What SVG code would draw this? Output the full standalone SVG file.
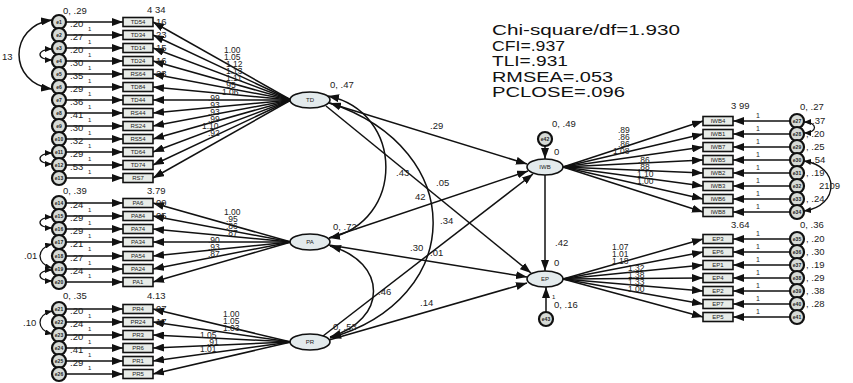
<svg xmlns="http://www.w3.org/2000/svg" width="853" height="383" viewBox="0 0 853 383">
<defs>
<marker id="ah" markerUnits="userSpaceOnUse" markerWidth="11" markerHeight="8" refX="11" refY="4" orient="auto"><path d="M0,0 L11,4 L0,8 z" fill="#111"/></marker>
<marker id="ahs" markerUnits="userSpaceOnUse" markerWidth="7" markerHeight="6" refX="7" refY="3" orient="auto-start-reverse"><path d="M0,0 L7,3 L0,6 z" fill="#111"/></marker>
<marker id="ahd" markerUnits="userSpaceOnUse" markerWidth="11" markerHeight="8" refX="11" refY="4" orient="auto-start-reverse"><path d="M0,0 L11,4 L0,8 z" fill="#111"/></marker>
<style>
text{font-family:"Liberation Sans",Arial,sans-serif;fill:#222}
.n{font-size:9.5px}
.ld{font-size:8.5px}
.s{font-size:6px}
.lb{font-size:6px;text-anchor:middle}
.el{font-size:5px;text-anchor:middle;font-weight:bold}
.fit{font-size:15px;fill:#111}
.ln{stroke:#111;stroke-width:1.5;fill:none}
.a{marker-end:url(#ah)}
.cv{stroke:#111;stroke-width:1.5;fill:none;marker-start:url(#ahd);marker-end:url(#ahd)}
.cs{stroke:#111;stroke-width:1.3;fill:none;marker-start:url(#ahs);marker-end:url(#ahs)}
.box{fill:#e8ece8;stroke:#111;stroke-width:1.6}
.err{fill:#d6dad6;stroke:#111;stroke-width:2.2}
.lat{fill:#e3eaec;stroke:#111;stroke-width:1.6}
</style>
</defs>
<rect width="853" height="383" fill="#fff"/>

<g id="connectors">
<g class="ln a">
<line x1="66" y1="22" x2="123" y2="22"/><line x1="66" y1="35" x2="123" y2="35"/><line x1="66" y1="48" x2="123" y2="48"/><line x1="66" y1="61" x2="123" y2="61"/><line x1="66" y1="74" x2="123" y2="74"/><line x1="66" y1="87" x2="123" y2="87"/><line x1="66" y1="100" x2="123" y2="100"/><line x1="66" y1="113" x2="123" y2="113"/><line x1="66" y1="126" x2="123" y2="126"/><line x1="66" y1="139" x2="123" y2="139"/><line x1="66" y1="152" x2="123" y2="152"/><line x1="66" y1="165" x2="123" y2="165"/><line x1="66" y1="178" x2="123" y2="178"/>
<line x1="66" y1="203" x2="123" y2="203"/><line x1="66" y1="216" x2="123" y2="216"/><line x1="66" y1="229" x2="123" y2="229"/><line x1="66" y1="242" x2="123" y2="242"/><line x1="66" y1="256" x2="123" y2="256"/><line x1="66" y1="269" x2="123" y2="269"/><line x1="66" y1="282" x2="123" y2="282"/>
<line x1="66" y1="309" x2="123" y2="309"/><line x1="66" y1="322" x2="123" y2="322"/><line x1="66" y1="335" x2="123" y2="335"/><line x1="66" y1="348" x2="123" y2="348"/><line x1="66" y1="361" x2="123" y2="361"/><line x1="66" y1="374" x2="123" y2="374"/>
<line x1="291" y1="100" x2="153" y2="22"/><line x1="291" y1="100" x2="153" y2="35"/><line x1="291" y1="100" x2="153" y2="48"/><line x1="291" y1="100" x2="153" y2="61"/><line x1="291" y1="100" x2="153" y2="74"/><line x1="291" y1="100" x2="153" y2="87"/><line x1="291" y1="100" x2="153" y2="100"/><line x1="291" y1="100" x2="153" y2="113"/><line x1="291" y1="100" x2="153" y2="126"/><line x1="291" y1="100" x2="153" y2="139"/><line x1="291" y1="100" x2="153" y2="152"/><line x1="291" y1="100" x2="153" y2="165"/><line x1="291" y1="100" x2="153" y2="178"/>
<line x1="291" y1="242" x2="153" y2="203"/><line x1="291" y1="242" x2="153" y2="216"/><line x1="291" y1="242" x2="153" y2="229"/><line x1="291" y1="242" x2="153" y2="242"/><line x1="291" y1="242" x2="153" y2="256"/><line x1="291" y1="242" x2="153" y2="269"/><line x1="291" y1="242" x2="153" y2="282"/>
<line x1="291" y1="342" x2="153" y2="309"/><line x1="291" y1="342" x2="153" y2="322"/><line x1="291" y1="342" x2="153" y2="335"/><line x1="291" y1="342" x2="153" y2="348"/><line x1="291" y1="342" x2="153" y2="361"/><line x1="291" y1="342" x2="153" y2="374"/>
<line x1="563" y1="167" x2="703" y2="121"/><line x1="563" y1="167" x2="703" y2="134"/><line x1="563" y1="167" x2="703" y2="147"/><line x1="563" y1="167" x2="703" y2="160"/><line x1="563" y1="167" x2="703" y2="173"/><line x1="563" y1="167" x2="703" y2="186"/><line x1="563" y1="167" x2="703" y2="199"/><line x1="563" y1="167" x2="703" y2="212"/>
<line x1="563" y1="279" x2="703" y2="239"/><line x1="563" y1="279" x2="703" y2="252"/><line x1="563" y1="279" x2="703" y2="265"/><line x1="563" y1="279" x2="703" y2="278"/><line x1="563" y1="279" x2="703" y2="291"/><line x1="563" y1="279" x2="703" y2="304"/><line x1="563" y1="279" x2="703" y2="317"/>
<line x1="790" y1="121" x2="733" y2="121"/><line x1="790" y1="134" x2="733" y2="134"/><line x1="790" y1="147" x2="733" y2="147"/><line x1="790" y1="160" x2="733" y2="160"/><line x1="790" y1="173" x2="733" y2="173"/><line x1="790" y1="186" x2="733" y2="186"/><line x1="790" y1="199" x2="733" y2="199"/><line x1="790" y1="212" x2="733" y2="212"/>
<line x1="790" y1="239" x2="733" y2="239"/><line x1="790" y1="252" x2="733" y2="252"/><line x1="790" y1="265" x2="733" y2="265"/><line x1="790" y1="278" x2="733" y2="278"/><line x1="790" y1="291" x2="733" y2="291"/><line x1="790" y1="304" x2="733" y2="304"/><line x1="790" y1="317" x2="733" y2="317"/>
<line x1="329" y1="103" x2="527" y2="164"/>
<line x1="326" y1="106" x2="531" y2="273"/>
<line x1="329" y1="238" x2="528" y2="171"/>
<line x1="329" y1="245" x2="527" y2="277"/>
<line x1="323" y1="336" x2="533" y2="174"/>
<line x1="329" y1="340" x2="527" y2="283"/>
<line x1="545" y1="175" x2="545" y2="271"/>
<line x1="545" y1="146" x2="545" y2="159"/>
<line x1="546" y1="312" x2="546" y2="287"/>
</g>
<path class="cv" d="M328,96 C405,112 405,222 329,238"/>
<path class="cv" d="M330,103 C470,150 465,300 330,338"/>
<path class="cv" d="M330,246 C388,262 388,320 330,337"/>
<path class="cv" d="M52,20 C8,26 8,83 52,89"/>
<path class="cs" d="M52,49 C36,49 36,60 52,60"/>
<path class="cs" d="M52,153 C36,153 36,164 52,164"/>
<path class="cs" d="M52,217 C36,217 36,228 52,228"/>
<path class="cs" d="M52,244 C36,248 36,264 52,268"/>
<path class="cs" d="M52,270 C36,270 36,281 52,281"/>
<path class="cs" d="M52,311 C36,315 36,330 52,334"/>
<path class="cs" d="M804,122 C818,122 818,133 804,133"/>
<path class="cs" d="M804,161 C840,166 840,206 804,211"/>
</g>

<g id="TD-indicators">
<g class="err">
<circle cx="59" cy="22" r="7"/><circle cx="59" cy="35" r="7"/><circle cx="59" cy="48" r="7"/><circle cx="59" cy="61" r="7"/><circle cx="59" cy="74" r="7"/><circle cx="59" cy="87" r="7"/><circle cx="59" cy="100" r="7"/><circle cx="59" cy="113" r="7"/><circle cx="59" cy="126" r="7"/><circle cx="59" cy="139" r="7"/><circle cx="59" cy="152" r="7"/><circle cx="59" cy="165" r="7"/><circle cx="59" cy="178" r="7"/>
</g>
<g class="box">
<rect x="123" y="17.5" width="30" height="9"/><rect x="123" y="30.5" width="30" height="9"/><rect x="123" y="43.5" width="30" height="9"/><rect x="123" y="56.5" width="30" height="9"/><rect x="123" y="69.5" width="30" height="9"/><rect x="123" y="82.5" width="30" height="9"/><rect x="123" y="95.5" width="30" height="9"/><rect x="123" y="108.5" width="30" height="9"/><rect x="123" y="121.5" width="30" height="9"/><rect x="123" y="134.5" width="30" height="9"/><rect x="123" y="147.5" width="30" height="9"/><rect x="123" y="160.5" width="30" height="9"/><rect x="123" y="173.5" width="30" height="9"/>
</g>
<g class="el">
<text x="59" y="24">e1</text><text x="59" y="37">e2</text><text x="59" y="50">e3</text><text x="59" y="63">e4</text><text x="59" y="76">e5</text><text x="59" y="89">e6</text><text x="59" y="102">e7</text><text x="59" y="115">e8</text><text x="59" y="128">e9</text><text x="59" y="141">e10</text><text x="59" y="154">e11</text><text x="59" y="167">e12</text><text x="59" y="180">e13</text>
</g>
<g class="lb">
<text x="138" y="24.2">TD54</text><text x="138" y="37.2">TD34</text><text x="138" y="50.2">TD14</text><text x="138" y="63.2">TD24</text><text x="138" y="76.2">RS64</text><text x="138" y="89.2">TD84</text><text x="138" y="102.2">TD44</text><text x="138" y="115.2">RS44</text><text x="138" y="128.2">RS24</text><text x="138" y="141.2">RS54</text><text x="138" y="154.2">TD64</text><text x="138" y="167.2">TD74</text><text x="138" y="180.2">RS7</text>
</g>
<g class="n">
<text x="63" y="14">0, .29</text><text x="147" y="13">4 34</text>
<text x="70" y="27">.20</text><text x="70" y="40">.27</text><text x="70" y="53">.20</text><text x="70" y="66">.30</text><text x="70" y="79">.35</text><text x="70" y="92">.29</text><text x="70" y="105">.36</text><text x="70" y="118">.41</text><text x="70" y="131">.30</text><text x="70" y="144">.32</text><text x="70" y="157">.29</text><text x="70" y="170">.53</text>
<text x="156" y="25">16</text><text x="156" y="38">23</text><text x="156" y="51">15</text><text x="156" y="64">16</text><text x="156" y="77">23</text>
</g>
<g class="s">
<text x="88" y="31">1</text><text x="88" y="44">1</text><text x="88" y="57">1</text><text x="88" y="70">1</text><text x="88" y="83">1</text><text x="88" y="96">1</text><text x="88" y="109">1</text><text x="88" y="122">1</text><text x="88" y="135">1</text><text x="88" y="148">1</text><text x="88" y="161">1</text><text x="88" y="174">1</text>
</g>
<text class="n" x="2" y="60">13</text>
<g class="ld">
<text x="224" y="53">1.00</text><text x="224" y="60">1.05</text><text x="226" y="67">1.12</text><text x="226" y="74">1.13</text><text x="226" y="81">1.11</text><text x="224" y="88">.95</text><text x="222" y="95">1.06</text><text x="208" y="101">.99</text><text x="208" y="108">.93</text><text x="208" y="115">.93</text><text x="208" y="122">.99</text><text x="202" y="129">1.10</text><text x="208" y="136">.92</text>
</g>
</g>

<g id="PA-indicators">
<g class="err">
<circle cx="59" cy="203" r="7"/><circle cx="59" cy="216" r="7"/><circle cx="59" cy="229" r="7"/><circle cx="59" cy="242" r="7"/><circle cx="59" cy="256" r="7"/><circle cx="59" cy="269" r="7"/><circle cx="59" cy="282" r="7"/>
</g>
<g class="box">
<rect x="123" y="198.5" width="30" height="9"/><rect x="123" y="211.5" width="30" height="9"/><rect x="123" y="224.5" width="30" height="9"/><rect x="123" y="237.5" width="30" height="9"/><rect x="123" y="251.5" width="30" height="9"/><rect x="123" y="264.5" width="30" height="9"/><rect x="123" y="277.5" width="30" height="9"/>
</g>
<g class="el">
<text x="59" y="205">e14</text><text x="59" y="218">e15</text><text x="59" y="231">e16</text><text x="59" y="244">e17</text><text x="59" y="258">e18</text><text x="59" y="271">e19</text><text x="59" y="284">e20</text>
</g>
<g class="lb">
<text x="138" y="205.2">PA6</text><text x="138" y="218.2">PA84</text><text x="138" y="231.2">PA74</text><text x="138" y="244.2">PA34</text><text x="138" y="258.2">PA54</text><text x="138" y="271.2">PA24</text><text x="138" y="284.2">PA1</text>
</g>
<g class="n">
<text x="63" y="194">0, .39</text><text x="147" y="194">3.79</text>
<text x="70" y="208">.24</text><text x="70" y="221">.29</text><text x="70" y="234">.29</text><text x="70" y="247">.21</text><text x="70" y="261">.27</text><text x="70" y="274">.24</text>
<text x="156" y="206">09</text><text x="156" y="219">05</text>
<text x="24" y="259">.01</text>
</g>
<g class="ld">
<text x="224" y="215">1.00</text><text x="226" y="222">.95</text><text x="226" y="229">.86</text><text x="226" y="236">.87</text><text x="208" y="243">.90</text><text x="208" y="250">.93</text><text x="208" y="257">.87</text>
</g>
<g class="s">
<text x="88" y="212">1</text><text x="88" y="225">1</text><text x="88" y="238">1</text><text x="88" y="251">1</text><text x="88" y="265">1</text><text x="88" y="278">1</text>
</g>
</g>

<g id="PR-indicators">
<g class="err">
<circle cx="59" cy="309" r="7"/><circle cx="59" cy="322" r="7"/><circle cx="59" cy="335" r="7"/><circle cx="59" cy="348" r="7"/><circle cx="59" cy="361" r="7"/><circle cx="59" cy="374" r="7"/>
</g>
<g class="box">
<rect x="123" y="304.5" width="30" height="9"/><rect x="123" y="317.5" width="30" height="9"/><rect x="123" y="330.5" width="30" height="9"/><rect x="123" y="343.5" width="30" height="9"/><rect x="123" y="356.5" width="30" height="9"/><rect x="123" y="369.5" width="30" height="9"/>
</g>
<g class="el">
<text x="59" y="311">e21</text><text x="59" y="324">e22</text><text x="59" y="337">e23</text><text x="59" y="350">e24</text><text x="59" y="363">e25</text><text x="59" y="376">e26</text>
</g>
<g class="lb">
<text x="138" y="311.2">PR4</text><text x="138" y="324.2">PR24</text><text x="138" y="337.2">PR3</text><text x="138" y="350.2">PR6</text><text x="138" y="363.2">PR1</text><text x="138" y="376.2">PR5</text>
</g>
<g class="n">
<text x="63" y="299">0, .35</text><text x="147" y="299">4.13</text>
<text x="70" y="314">.20</text><text x="70" y="327">.24</text><text x="70" y="340">.20</text><text x="70" y="353">.41</text><text x="70" y="366">.29</text>
<text x="156" y="312">07</text><text x="156" y="325">17</text>
<text x="23" y="326">.10</text>
</g>
<g class="ld">
<text x="223" y="317">1.00</text><text x="223" y="324">1.05</text><text x="223" y="331">1.03</text><text x="200" y="338">1.05</text><text x="207" y="345">.91</text><text x="200" y="352">1.01</text>
</g>
<g class="s">
<text x="88" y="318">1</text><text x="88" y="331">1</text><text x="88" y="344">1</text><text x="88" y="357">1</text><text x="88" y="370">1</text>
</g>
</g>

<g id="TD"><ellipse class="lat" cx="310" cy="100" rx="20" ry="8"/><text class="lb" x="310" y="102">TD</text><text class="n" x="330" y="88">0, .47</text></g>
<g id="PA"><ellipse class="lat" cx="310" cy="242" rx="20" ry="8"/><text class="lb" x="310" y="244">PA</text><text class="n" x="333" y="230">0, .72</text></g>
<g id="PR"><ellipse class="lat" cx="310" cy="342" rx="20" ry="8"/><text class="lb" x="310" y="344">PR</text><text class="n" x="333" y="330">0, .53</text></g>
<g id="IWB"><ellipse class="lat" cx="545" cy="167" rx="18" ry="8"/><text class="lb" x="545" y="169">IWB</text><text class="n" x="552" y="127">0, .49</text><text class="n" x="554" y="155">0</text></g>
<g id="EP"><ellipse class="lat" cx="545" cy="279" rx="18" ry="8"/><text class="lb" x="545" y="281">EP</text><text class="n" x="554" y="266">0</text></g>
<g id="e42"><circle class="err" cx="545" cy="139" r="7"/><text class="el" x="545" y="141">e42</text></g>
<g id="e43"><circle class="err" cx="546" cy="319" r="7"/><text class="el" x="546" y="321">e43</text><text class="s" x="552" y="299">1</text><text class="n" x="554" y="308">0, .16</text></g>

<g id="path-labels" class="n">
<text x="430" y="129">.29</text>
<text x="436" y="186">.05</text>
<text x="396" y="176">.43</text>
<text x="415" y="200">42</text>
<text x="440" y="224">.34</text>
<text x="410" y="251">.30</text>
<text x="430" y="256">.01</text>
<text x="378" y="295">.46</text>
<text x="420" y="306">.14</text>
<text x="555" y="246">.42</text>
</g>

<g id="IWB-indicators">
<g class="box">
<rect x="703" y="116.5" width="30" height="9"/><rect x="703" y="129.5" width="30" height="9"/><rect x="703" y="142.5" width="30" height="9"/><rect x="703" y="155.5" width="30" height="9"/><rect x="703" y="168.5" width="30" height="9"/><rect x="703" y="181.5" width="30" height="9"/><rect x="703" y="194.5" width="30" height="9"/><rect x="703" y="207.5" width="30" height="9"/>
</g>
<g class="lb">
<text x="718" y="123.2">IWB4</text><text x="718" y="136.2">IWB1</text><text x="718" y="149.2">IWB7</text><text x="718" y="162.2">IWB5</text><text x="718" y="175.2">IWB2</text><text x="718" y="188.2">IWB3</text><text x="718" y="201.2">IWB6</text><text x="718" y="214.2">IWB8</text>
</g>
<g class="err">
<circle cx="797" cy="121" r="7"/><circle cx="797" cy="134" r="7"/><circle cx="797" cy="147" r="7"/><circle cx="797" cy="160" r="7"/><circle cx="797" cy="173" r="7"/><circle cx="797" cy="186" r="7"/><circle cx="797" cy="199" r="7"/><circle cx="797" cy="212" r="7"/>
</g>
<g class="el">
<text x="797" y="123">e27</text><text x="797" y="136">e28</text><text x="797" y="149">e29</text><text x="797" y="162">e30</text><text x="797" y="175">e31</text><text x="797" y="188">e32</text><text x="797" y="201">e33</text><text x="797" y="214">e34</text>
</g>
<g class="s" style="font-size:7px">
<text x="756" y="118">1</text><text x="756" y="131">1</text><text x="756" y="144">1</text><text x="756" y="157">1</text><text x="756" y="170">1</text><text x="756" y="183">1</text><text x="756" y="196">1</text><text x="756" y="209">1</text>
</g>
<g class="n">
<text x="731" y="109">3 99</text><text x="800" y="110">0, .27</text>
<text x="812" y="124">.37</text><text x="806" y="137">, .20</text><text x="806" y="150">, .25</text><text x="812" y="163">.54</text><text x="806" y="176">, .19</text><text x="819" y="189">2109</text><text x="806" y="202">, .24</text>
</g>
<g class="ld">
<text x="618" y="133">.89</text><text x="618" y="140">.86</text><text x="618" y="147">.86</text><text x="613" y="154">1.08</text><text x="638" y="163">.86</text><text x="638" y="170">.88</text><text x="637" y="177">1.10</text><text x="637" y="184">1.00</text>
</g>
</g>

<g id="EP-indicators">
<g class="box">
<rect x="703" y="234.5" width="30" height="9"/><rect x="703" y="247.5" width="30" height="9"/><rect x="703" y="260.5" width="30" height="9"/><rect x="703" y="273.5" width="30" height="9"/><rect x="703" y="286.5" width="30" height="9"/><rect x="703" y="299.5" width="30" height="9"/><rect x="703" y="312.5" width="30" height="9"/>
</g>
<g class="lb">
<text x="718" y="241.2">EP3</text><text x="718" y="254.2">EP6</text><text x="718" y="267.2">EP1</text><text x="718" y="280.2">EP4</text><text x="718" y="293.2">EP2</text><text x="718" y="306.2">EP7</text><text x="718" y="319.2">EP5</text>
</g>
<g class="err">
<circle cx="797" cy="239" r="7"/><circle cx="797" cy="252" r="7"/><circle cx="797" cy="265" r="7"/><circle cx="797" cy="278" r="7"/><circle cx="797" cy="291" r="7"/><circle cx="797" cy="304" r="7"/><circle cx="797" cy="317" r="7"/>
</g>
<g class="el">
<text x="797" y="241">e35</text><text x="797" y="254">e36</text><text x="797" y="267">e37</text><text x="797" y="280">e38</text><text x="797" y="293">e39</text><text x="797" y="306">e40</text><text x="797" y="319">e41</text>
</g>
<g class="s" style="font-size:7px">
<text x="756" y="236">1</text><text x="756" y="249">1</text><text x="756" y="262">1</text><text x="756" y="275">1</text><text x="756" y="288">1</text><text x="756" y="301">1</text><text x="756" y="314">1</text>
</g>
<g class="n">
<text x="731" y="228">3.64</text><text x="800" y="228">0, .36</text>
<text x="806" y="242">, .20</text><text x="806" y="255">, .30</text><text x="806" y="268">, .19</text><text x="806" y="281">, .29</text><text x="806" y="294">, .38</text><text x="806" y="307">, .28</text>
</g>
<g class="ld">
<text x="612" y="250">1.07</text><text x="612" y="257">1.01</text><text x="612" y="264">1.18</text><text x="628" y="271">1.32</text><text x="628" y="278">1.38</text><text x="628" y="285">1.33</text><text x="628" y="292">1.00</text>
</g>
</g>

<g id="fit">
<text class="fit" x="492" y="35" textLength="188" lengthAdjust="spacingAndGlyphs">Chi-square/df=1.930</text>
<text class="fit" x="492" y="51" textLength="73" lengthAdjust="spacingAndGlyphs">CFI=.937</text>
<text class="fit" x="492" y="66" textLength="76" lengthAdjust="spacingAndGlyphs">TLI=.931</text>
<text class="fit" x="492" y="82" textLength="121" lengthAdjust="spacingAndGlyphs">RMSEA=.053</text>
<text class="fit" x="492" y="97" textLength="133" lengthAdjust="spacingAndGlyphs">PCLOSE=.096</text>
</g>
</svg>
